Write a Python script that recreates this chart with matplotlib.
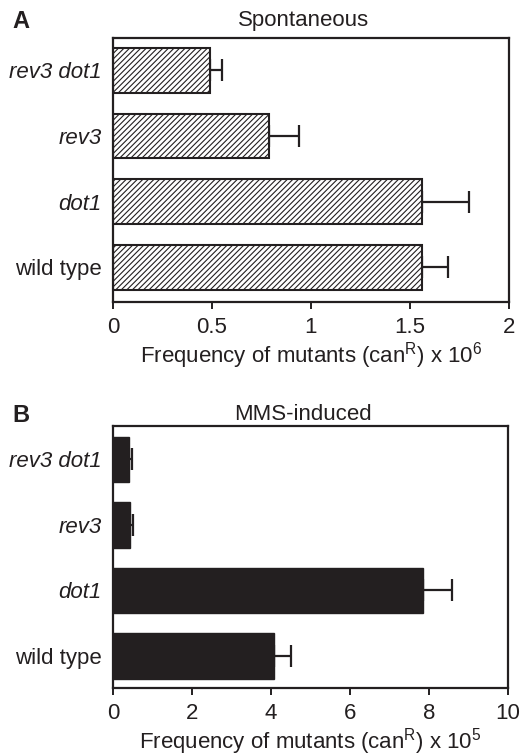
import matplotlib
matplotlib.use("Agg")
import matplotlib.pyplot as plt

plt.rcParams['font.family'] = ['Liberation Sans', 'DejaVu Sans']
plt.rcParams['mathtext.fontset'] = 'custom'
plt.rcParams['mathtext.rm'] = 'Liberation Sans'
plt.rcParams['mathtext.default'] = 'regular'
plt.rcParams['hatch.linewidth'] = 0.8

categories = ["wild type", "dot1", "rev3", "rev3 dot1"]
italic = [False, True, True, True]

spont_values = [1.56, 1.56, 0.79, 0.49]
spont_errors = [0.13, 0.24, 0.15, 0.06]

mms_values = [4.08, 7.85, 0.44, 0.41]
mms_errors = [0.42, 0.74, 0.06, 0.07]

spont_ticks = [0, 0.5, 1, 1.5, 2]
spont_ticklabels = ["0", "0.5", "1", "1.5", "2"]
mms_ticks = [0, 2, 4, 6, 8, 10]

dark = "#231f20"
FS = 16
W, H = 521, 756
fig = plt.figure(figsize=(W / 100, H / 100), dpi=100)

ax1 = fig.add_axes([113 / W, 1 - 302 / H, (509 - 113) / W, (302 - 38) / H])
ax2 = fig.add_axes([113 / W, 1 - 688 / H, (508 - 113) / W, (688 - 426) / H])

ypos = list(range(len(categories)))

def style(ax, xlim, ylim, ticks, ticklabels, xlabel, title, tpad, letter, ly):
    ax.set_xlim(*xlim)
    ax.set_ylim(*ylim)
    ax.set_xticks(ticks)
    ax.set_xticklabels(ticklabels, fontsize=FS, color=dark)
    ax.set_yticks(ypos)
    ax.set_yticklabels(categories, fontsize=FS, color=dark)
    for lab, it in zip(ax.get_yticklabels(), italic):
        if it:
            lab.set_style('italic')
    ax.tick_params(axis='y', length=0, pad=8)
    ax.tick_params(axis='x', length=5, width=1.4, color=dark, pad=6)
    for s in ax.spines.values():
        s.set_linewidth(1.6)
        s.set_color(dark)
    ax.set_xlabel(xlabel, fontsize=FS, color=dark, labelpad=1)
    ax.set_title(title, fontsize=FS, color=dark, pad=tpad, x=0.48)
    fig.text(12 / W, 1 - ly / H, letter, fontsize=17,
             fontweight='bold', color=dark, va='baseline', ha='left')

ax1.barh(ypos, spont_values, height=0.68, color='white', edgecolor=dark,
         linewidth=1.5, hatch='//////', zorder=2)
ax1.errorbar(spont_values, ypos, xerr=[[0] * 4, spont_errors], fmt='none',
             ecolor=dark, elinewidth=1.6, capsize=8, capthick=1.6, zorder=1)
style(ax1, (0, 2), (-0.53, 3.49), spont_ticks, spont_ticklabels,
      "Frequency of mutants (can$^{R}$) x 10$^{6}$", "Spontaneous", 9, "A", 28)

ax2.barh(ypos, mms_values, height=0.69, color=dark, edgecolor=dark,
         linewidth=1.0, zorder=2)
ax2.errorbar(mms_values, ypos, xerr=[[0] * 4, mms_errors], fmt='none',
             ecolor=dark, elinewidth=1.6, capsize=8, capthick=1.6, zorder=1)
style(ax2, (0, 10), (-0.49, 3.51), mms_ticks, [str(t) for t in mms_ticks],
      "Frequency of mutants (can$^{R}$) x 10$^{5}$", "MMS-induced", 4, "B", 422)

fig.savefig("out.png", dpi=100)
